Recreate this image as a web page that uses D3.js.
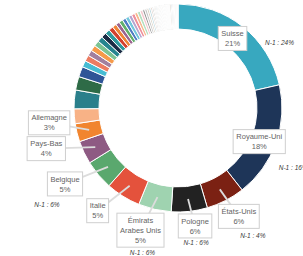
<!DOCTYPE html>
<html>
<head>
<meta charset="utf-8">
<script src="https://cdn.jsdelivr.net/npm/d3@7"></script>
<style>
  body { margin: 0; background: #fff; }
  svg { display: block; font-family: "Liberation Sans", Arial, sans-serif; }
</style>
</head>
<body>
<svg width="303" height="256"></svg>
<script>
// parts de chaque pays (%), dans l'ordre du donut, sens horaire depuis midi
var categories = ["Suisse", "Royaume-Uni", "États-Unis", "Pologne", "Émirats Arabes Unis",
  "Italie", "Belgique", "Pays-Bas", "Allemagne",
  "Pays 10", "Pays 11", "Pays 12", "Pays 13", "Pays 14", "Pays 15", "Pays 16", "Pays 17",
  "Pays 18", "Pays 19", "Pays 20", "Pays 21", "Pays 22", "Pays 23", "Pays 24", "Pays 25",
  "Pays 26", "Pays 27", "Pays 28", "Pays 29", "Pays 30", "Pays 31", "Pays 32", "Pays 33",
  "Pays 34", "Pays 35", "Pays 36", "Pays 37"];
var values = [21.4, 18.0, 6.0, 5.6, 5.1, 5.4, 4.6, 3.6, 2.8,
  2.3, 2.9, 2.1, 1.6, 1.0, 0.95, 0.9, 0.9,
  0.85, 0.85, 0.8, 0.75, 0.7, 0.65, 0.6, 0.6,
  0.55, 0.55, 0.5, 0.5, 0.45, 0.45, 0.4, 0.35,
  0.35, 0.3, 0.3, 0.25];
// la longue traine de tres petits pays
var tinyValues = [0.2, 0.18, 0.16, 0.15, 0.14, 0.13, 0.12, 0.12, 0.11, 0.1, 0.1, 0.1,
  0.09, 0.09, 0.08, 0.08, 0.08, 0.07, 0.07, 0.07, 0.06, 0.06, 0.06, 0.05, 0.05, 0.05,
  0.05, 0.04, 0.04, 0.04, 0.2, 0.18, 0.16, 0.14, 0.12, 0.1, 0.1, 0.08, 0.08, 0.06, 0.04];
// part de l'annee precedente, pour les pays qui l'affichent
var prevCategories = ["Suisse", "Royaume-Uni", "États-Unis", "Pologne", "Émirats Arabes Unis", "Belgique"];
var prevValues = [24, 16, 4, 6, 6, 6];
var labelled = ["Suisse", "Royaume-Uni", "États-Unis", "Pologne", "Émirats Arabes Unis",
  "Italie", "Belgique", "Pays-Bas", "Allemagne"];

var colors = ["#38a8bf", "#1e3558", "#7b2113", "#222222", "#9fd3b0",
  "#e4523c", "#5aa86e", "#8e5a83", "#f1852f",
  "#f8b286", "#2a7f8b", "#2e6b47", "#2f5597", "#47bcd3", "#ec7c62", "#a17f9f", "#f69a4a",
  "#7cc494", "#26858f", "#1b2c45", "#2f9a9e", "#d4412f", "#f08436", "#9b6590", "#62b06c",
  "#4f7cc4", "#72c7dc", "#b6a6d1", "#ef8f9c", "#f7b98f", "#b3e0c0", "#f6c9cf", "#9a9a9a",
  "#c8c8c8", "#d8cfc0", "#bcd9e0", "#e0d0c8"];
var tinyColors = ["#b0b0b0", "#d6d6d6", "#c4b8a8", "#a8c2ca"];

// placement des etiquettes par rapport au centroide (box) et de la mention N-1 par rapport a la box
var labelPos = {
  "Suisse": [-2.5, 2, 47, 4],
  "Royaume-Uni": [-5, 3, 34, 26],
  "États-Unis": [19, 27, 14, 19],
  "Pologne": [7, 27, 1, 17],
  "Émirats Arabes Unis": [-17, 33, 2, 23],
  "Italie": [-32, 25],
  "Belgique": [-43, 17, -18, 21],
  "Pays-Bas": [-49, 1.5],
  "Allemagne": [-40, -7]
};
var lineBreaks = { "Émirats Arabes Unis": ["Émirats", "Arabes Unis"] };

var svg = d3.select("svg"),
    cx = 178, cy = 108,
    outer = 104, inner = 79;

var rows = categories.map(function(c, i) { return { name: c, value: values[i], color: colors[i] }; });
tinyValues.forEach(function(v, i) {
  rows.push({ name: "Petit " + (i + 1), value: v, color: tinyColors[i % tinyColors.length] });
});
var total = d3.sum(rows, function(d) { return d.value; });

var pie = d3.pie().sort(null).value(function(d) { return d.value; });
var arc = d3.arc().innerRadius(inner).outerRadius(outer);
var arcs = pie(rows);

var g = svg.append("g").attr("transform", "translate(" + cx + "," + cy + ")");

g.selectAll("path.slice")
  .data(arcs)
  .enter().append("path")
  .attr("class", "slice")
  .attr("d", arc)
  .attr("fill", function(d) { return d.data.color; })
  .attr("stroke", "#fff")
  .attr("stroke-width", 1);

var fmt = d3.format(".0%");
var lab = arcs.filter(function(d) { return labelled.indexOf(d.data.name) >= 0; });

// lignes de rappel
lab.forEach(function(d) {
  var p = labelPos[d.data.name], c = arc.centroid(d);
  if (Math.abs(p[0]) < 6 && Math.abs(p[1]) < 6) return;
  g.append("line")
    .attr("x1", c[0]).attr("y1", c[1])
    .attr("x2", c[0] + p[0]).attr("y2", c[1] + p[1])
    .attr("stroke", "#dcdcdc")
    .attr("stroke-width", 1.8);
});

// etiquettes encadrees
lab.forEach(function(d) {
  var p = labelPos[d.data.name], c = arc.centroid(d);
  var bx = c[0] + p[0], by = c[1] + p[1];
  var lines = (lineBreaks[d.data.name] || [d.data.name]).concat([fmt(d.data.value / total)]);
  var lg = g.append("g").attr("transform", "translate(" + bx + "," + by + ")");
  var rect = lg.append("rect").attr("fill", "#fff").attr("stroke", "#cfcfcf").attr("stroke-width", 1);
  var t = lg.append("text")
    .attr("text-anchor", "middle")
    .attr("font-size", 7.5)
    .attr("fill", "#636363");
  lines.forEach(function(s, i) {
    t.append("tspan")
      .attr("x", 0)
      .attr("y", (i - (lines.length - 1) / 2) * 10)
      .attr("dy", "0.35em")
      .text(s);
  });
  var b = t.node().getBBox();
  var w = b.width + 6, h = lines.length * 10 + 4;
  rect.attr("x", -w / 2).attr("y", -h / 2).attr("width", w).attr("height", h);

  var k = prevCategories.indexOf(d.data.name);
  if (k >= 0) {
    g.append("text")
      .attr("x", bx + p[2]).attr("y", by + p[3])
      .attr("dy", "0.35em")
      .attr("text-anchor", "middle")
      .attr("font-size", 6.5)
      .attr("font-style", "italic")
      .attr("fill", "#3a3a3a")
      .text("N-1 : " + prevValues[k] + "%");
  }
});
</script>
</body>
</html>
